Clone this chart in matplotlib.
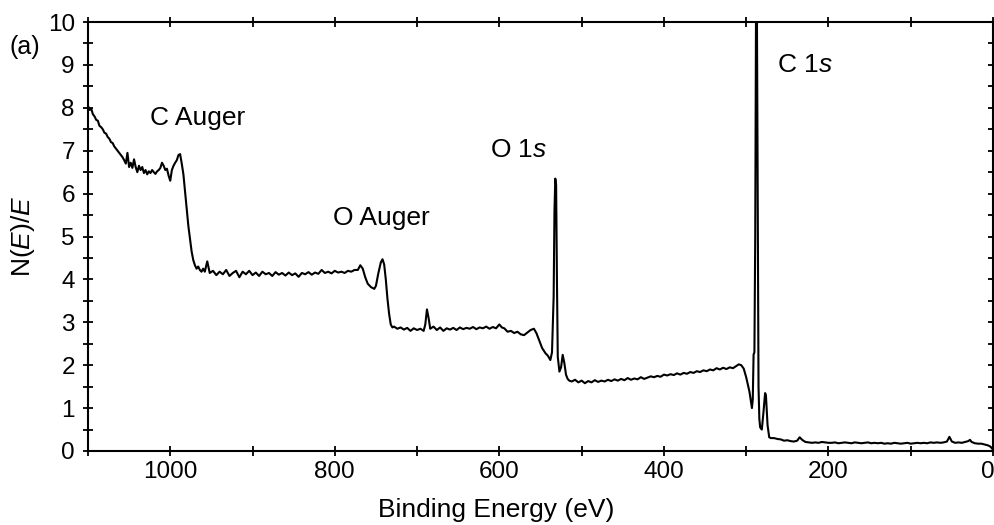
import matplotlib
matplotlib.use("Agg")
import matplotlib.pyplot as plt
import matplotlib.transforms as mtransforms
from matplotlib.ticker import MultipleLocator

plt.rcParams['font.family'] = ['Liberation Sans', 'DejaVu Sans']
plt.rcParams['mathtext.fontset'] = 'custom'
plt.rcParams['mathtext.rm'] = 'Liberation Sans'
plt.rcParams['mathtext.it'] = 'Liberation Sans:italic'

# ---- data ----
energy_ev = [
    1100, 1098, 1096, 1094, 1092, 1090, 1088, 1086, 1084, 1082, 1080, 1078, 1076, 1074, 1072,
    1070, 1068, 1066, 1064, 1062, 1060, 1058, 1056, 1054, 1052, 1050, 1048, 1046, 1044, 1042,
    1040, 1038, 1036, 1034, 1032, 1030, 1028, 1026, 1024, 1022, 1020, 1018, 1016, 1014, 1012,
    1010, 1008, 1006, 1004, 1002, 1000, 998, 996, 994, 992, 990, 988, 986, 984, 982,
    980, 978, 976, 974, 972, 970, 968, 966, 964, 962, 960, 958, 955, 952, 948,
    944, 940, 936, 932, 928, 924, 920, 916, 912, 908, 904, 900, 896, 892, 888,
    884, 880, 876, 872, 868, 864, 860, 856, 852, 848, 844, 840, 836, 832, 828,
    824, 820, 816, 812, 808, 804, 800, 796, 792, 788, 784, 780, 776, 772, 769,
    766, 763, 760, 756, 752, 750, 747, 744, 742, 740, 738, 736, 734, 732, 730,
    728, 724, 720, 716, 712, 708, 704, 700, 696, 692, 690, 688, 686, 684, 680,
    676, 672, 668, 664, 660, 656, 652, 648, 644, 640, 636, 632, 628, 624, 620,
    616, 612, 608, 604, 600, 597, 594, 590, 586, 582, 578, 574, 570, 566, 562,
    558, 555, 552, 548, 544, 541, 538, 536, 534, 533, 532, 531, 530, 529, 527,
    525, 523, 521, 519, 517, 515, 512, 508, 504, 500, 496, 492, 488, 484, 480,
    476, 472, 468, 464, 460, 456, 452, 448, 444, 440, 436, 432, 428, 424, 420,
    416, 412, 408, 404, 400, 396, 392, 388, 384, 380, 376, 372, 368, 364, 360,
    356, 352, 348, 344, 340, 336, 332, 328, 324, 320, 316, 312, 309, 306, 303,
    300, 298, 296, 294, 293, 292, 291, 290, 289, 288, 287, 286, 285, 284, 283,
    281, 279, 277, 276, 274, 272, 270, 266, 262, 258, 254, 250, 246, 242, 238,
    235, 232, 228, 224, 220, 216, 212, 208, 204, 200, 196, 192, 188, 184, 180,
    176, 172, 168, 164, 160, 156, 152, 148, 144, 140, 136, 132, 128, 124, 120,
    116, 112, 108, 104, 100, 96, 92, 88, 84, 80, 76, 72, 68, 64, 60,
    56, 53, 50, 46, 42, 38, 34, 30, 28, 26, 22, 18, 14, 10, 6,
    3, 0,
]
intensity = [
    8.05, 7.95, 7.98, 7.85, 7.80, 7.72, 7.70, 7.58, 7.55, 7.50, 7.42, 7.40, 7.32, 7.28, 7.20,
    7.18, 7.10, 7.05, 7.00, 6.95, 6.90, 6.85, 6.78, 6.70, 6.95, 6.62, 6.72, 6.60, 6.80, 6.62,
    6.50, 6.65, 6.55, 6.62, 6.48, 6.55, 6.45, 6.52, 6.48, 6.55, 6.50, 6.46, 6.52, 6.55, 6.60,
    6.72, 6.65, 6.55, 6.58, 6.42, 6.30, 6.55, 6.65, 6.72, 6.78, 6.90, 6.92, 6.70, 6.45, 6.05,
    5.65, 5.25, 4.95, 4.65, 4.45, 4.33, 4.25, 4.30, 4.22, 4.18, 4.25, 4.18, 4.42, 4.15, 4.20,
    4.10, 4.18, 4.12, 4.22, 4.08, 4.15, 4.20, 4.05, 4.18, 4.12, 4.20, 4.10, 4.16, 4.08, 4.18,
    4.12, 4.15, 4.08, 4.17, 4.11, 4.15, 4.09, 4.16, 4.10, 4.14, 4.06, 4.15, 4.12, 4.17, 4.11,
    4.16, 4.13, 4.22, 4.15, 4.18, 4.14, 4.20, 4.16, 4.18, 4.15, 4.20, 4.18, 4.22, 4.22, 4.33,
    4.25, 4.05, 3.90, 3.82, 3.78, 3.85, 4.15, 4.40, 4.47, 4.35, 4.00, 3.55, 3.20, 2.95, 2.88,
    2.90, 2.85, 2.88, 2.83, 2.87, 2.80, 2.86, 2.82, 2.85, 2.80, 2.95, 3.30, 3.10, 2.85, 2.90,
    2.82, 2.88, 2.80, 2.86, 2.83, 2.87, 2.82, 2.88, 2.84, 2.87, 2.85, 2.89, 2.84, 2.88, 2.86,
    2.90, 2.85, 2.89, 2.86, 2.95, 2.88, 2.86, 2.78, 2.80, 2.75, 2.78, 2.72, 2.70, 2.76, 2.82,
    2.85, 2.75, 2.60, 2.40, 2.28, 2.22, 2.12, 2.30, 3.60, 5.60, 6.35, 6.20, 4.00, 2.20, 1.85,
    1.95, 2.24, 2.05, 1.78, 1.68, 1.64, 1.62, 1.66, 1.60, 1.64, 1.58, 1.63, 1.60, 1.65, 1.61,
    1.64, 1.62, 1.66, 1.63, 1.67, 1.64, 1.68, 1.65, 1.70, 1.66, 1.69, 1.67, 1.72, 1.68, 1.71,
    1.74, 1.72, 1.75, 1.73, 1.78, 1.76, 1.79, 1.77, 1.81, 1.78, 1.82, 1.80, 1.84, 1.82, 1.86,
    1.84, 1.88, 1.86, 1.90, 1.88, 1.93, 1.90, 1.94, 1.91, 1.95, 1.93, 1.98, 2.02, 2.00, 1.92,
    1.72, 1.55, 1.38, 1.12, 1.00, 1.20, 2.25, 2.30, 5.00, 10.5, 10.5, 6.00, 1.50, 0.75, 0.55,
    0.50, 0.90, 1.35, 1.30, 0.60, 0.32, 0.30, 0.30, 0.28, 0.27, 0.24, 0.25, 0.23, 0.22, 0.24,
    0.32, 0.26, 0.21, 0.20, 0.19, 0.20, 0.19, 0.21, 0.20, 0.19, 0.19, 0.20, 0.18, 0.19, 0.20,
    0.19, 0.18, 0.20, 0.19, 0.18, 0.19, 0.20, 0.18, 0.19, 0.18, 0.19, 0.17, 0.18, 0.17, 0.19,
    0.18, 0.17, 0.18, 0.19, 0.17, 0.18, 0.19, 0.18, 0.19, 0.18, 0.20, 0.19, 0.20, 0.19, 0.20,
    0.22, 0.33, 0.22, 0.19, 0.20, 0.19, 0.21, 0.23, 0.26, 0.21, 0.18, 0.17, 0.17, 0.15, 0.13,
    0.10, 0.03,
]

x_tick_values = [1000, 800, 600, 400, 200, 0]
x_tick_labels = ["1000", "800", "600", "400", "200", "0"]
y_tick_values = [0, 1, 2, 3, 4, 5, 6, 7, 8, 9, 10]
y_tick_labels = [str(v) for v in y_tick_values]

peak_labels = ["C Auger", "O Auger", "O 1$s$", "C 1$s$"]
peak_label_energy = [1025, 802, 611, 263]
peak_label_level = [7.76, 5.43, 7.02, 9.0]

fig = plt.figure(figsize=(9.95, 5.25), dpi=100)
ax = fig.add_axes([0.0884, 0.141, 0.9096, 0.817])

ax.plot(energy_ev, intensity, color='black', lw=1.5, solid_joinstyle='round')

ax.set_xlim(1100, 0)
ax.set_ylim(0, 10)
ax.set_xticks(x_tick_values)
ax.set_xticklabels(x_tick_labels)
ax.set_yticks(y_tick_values)
ax.set_yticklabels(y_tick_labels)
ax.xaxis.set_minor_locator(MultipleLocator(100))
ax.yaxis.set_minor_locator(MultipleLocator(0.5))
ax.tick_params(which='both', direction='inout', length=7, width=1.3,
               top=True, right=True, labelsize=17.5, colors='black')
ax.tick_params(axis='x', which='major', pad=4)
ax.tick_params(axis='y', which='major', pad=6)
for s in ax.spines.values():
    s.set_linewidth(1.5)

# nudge the last x label ("0") slightly left so it stays inside the figure
last = ax.get_xticklabels()[-1]
last.set_transform(last.get_transform() +
                   mtransforms.ScaledTranslation(-5 / 100, 0, fig.dpi_scale_trans))

ax.set_xlabel("Binding Energy (eV)", fontsize=19)
ax.xaxis.set_label_coords(0.451, -0.137)
ax.xaxis.label.set_va('center')
ax.set_ylabel(r"N($\mathit{E}$)/$\mathit{E}$", fontsize=19, labelpad=8)

for lab, ex, ly in zip(peak_labels, peak_label_energy, peak_label_level):
    ax.text(ex, ly, lab, fontsize=19, ha='left', va='center')

fig.text(0.010, 0.91, "(a)", fontsize=18, ha='left', va='center')

fig.savefig("out.png", dpi=100)
